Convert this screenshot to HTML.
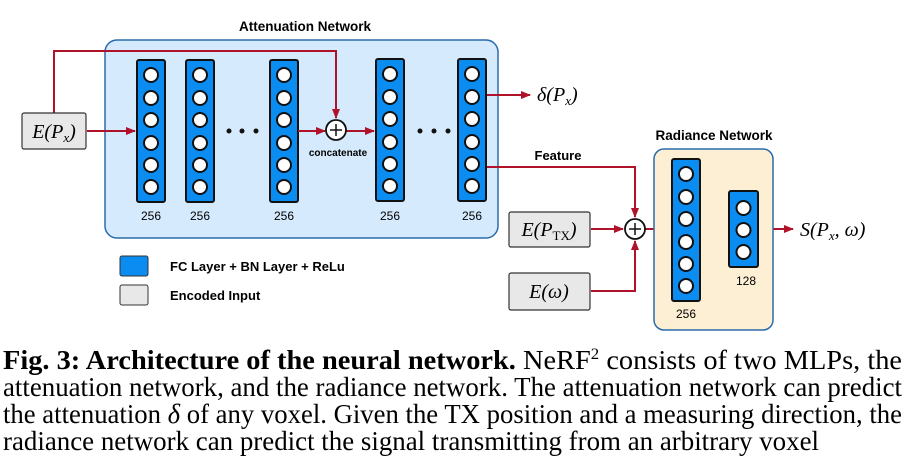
<!DOCTYPE html>
<html><head><meta charset="utf-8"><style>
html,body{margin:0;padding:0;background:#fff;width:906px;height:472px;overflow:hidden}
svg{display:block}
.s{font-family:"Liberation Sans",sans-serif}
.m{font-family:"Liberation Serif",serif;font-style:italic}
</style></head><body>
<svg width="906" height="472" viewBox="0 0 906 472" xmlns="http://www.w3.org/2000/svg">
<defs>
<marker id="a" markerWidth="10" markerHeight="8" refX="9" refY="4" orient="auto" markerUnits="userSpaceOnUse"><path d="M0,0 L10,4 L0,8 Z" fill="#b0122a"/></marker>
<g id="col6"><rect x="0" y="0" width="28" height="142" rx="2" fill="#0a8cf0" stroke="#111" stroke-width="2"/>
<g fill="#fff" stroke="#111" stroke-width="2"><circle cx="14" cy="15" r="7"/><circle cx="14" cy="38" r="7"/><circle cx="14" cy="60" r="7"/><circle cx="14" cy="83" r="7"/><circle cx="14" cy="105" r="7"/><circle cx="14" cy="127" r="7"/></g></g>
</defs>
<text x="305" y="31" class="s" font-size="13.5" font-weight="bold" text-anchor="middle">Attenuation Network</text>
<rect x="105" y="40" width="393" height="198" rx="12" fill="#d5eafd" stroke="#2a6cab" stroke-width="1.5"/>
<use href="#col6" x="137" y="60"/>
<use href="#col6" x="186" y="60"/>
<use href="#col6" x="270" y="60"/>
<use href="#col6" x="376" y="59"/>
<use href="#col6" x="458" y="59"/>
<g class="s" font-size="12" text-anchor="middle"><text x="151" y="220">256</text><text x="200" y="220">256</text><text x="284" y="220">256</text><text x="390" y="220">256</text><text x="472" y="220">256</text></g>
<g fill="#111"><circle cx="229" cy="131" r="2.5"/><circle cx="242" cy="131" r="2.5"/><circle cx="256" cy="131" r="2.5"/><circle cx="420" cy="131" r="2.5"/><circle cx="434" cy="131" r="2.5"/><circle cx="448" cy="131" r="2.5"/></g>
<text x="338" y="156" class="s" font-size="10" font-weight="bold" text-anchor="middle">concatenate</text>
<g stroke="#b0122a" stroke-width="2" fill="none">
<path d="M54,113 V51 H336 V118" marker-end="url(#a)"/>
<path d="M87,131 H135" marker-end="url(#a)"/>
<path d="M298,131 H325" marker-end="url(#a)"/>
<path d="M346,131 H374" marker-end="url(#a)"/>
<path d="M487,95 H530" marker-end="url(#a)"/>
<path d="M487,167 H635 V217" marker-end="url(#a)"/>
<path d="M591,229 H623" marker-end="url(#a)"/>
<path d="M591,291 H635 V241" marker-end="url(#a)"/>
<path d="M645,229 H670" marker-end="url(#a)"/>
<path d="M702,229 H727" marker-end="url(#a)"/>
<path d="M759,229 H793" marker-end="url(#a)"/>
</g>
<g stroke="#111" stroke-width="1.8" fill="#fff"><circle cx="336" cy="130" r="10"/><circle cx="635" cy="229" r="10"/></g>
<g stroke="#111" stroke-width="1.5"><path d="M330,130 H342 M336,124 V136 M629,229 H641 M635,223 V235"/></g>
<rect x="22" y="113" width="64" height="36" rx="2" fill="#e8e8e8" stroke="#333" stroke-width="1.2"/>
<text x="54" y="138" class="m" font-size="20" text-anchor="middle">E(P<tspan font-size="13" dy="4">x</tspan><tspan dy="-4">)</tspan></text>
<text x="537" y="101" class="m" font-size="20">δ(P<tspan font-size="13" dy="4">x</tspan><tspan dy="-4">)</tspan></text>
<text x="558" y="160" class="s" font-size="13" font-weight="bold" text-anchor="middle">Feature</text>
<rect x="509" y="212" width="81" height="35" rx="2" fill="#e8e8e8" stroke="#333" stroke-width="1.2"/>
<text x="549" y="236" class="m" font-size="20" text-anchor="middle">E(P<tspan font-size="13" font-style="normal" dy="4">TX</tspan><tspan dy="-4">)</tspan></text>
<rect x="509" y="273" width="81" height="37" rx="2" fill="#e8e8e8" stroke="#333" stroke-width="1.2"/>
<text x="549" y="298" class="m" font-size="20" text-anchor="middle">E(ω)</text>
<text x="714" y="140" class="s" font-size="13.5" font-weight="bold" text-anchor="middle">Radiance Network</text>
<rect x="654" y="149" width="119" height="181" rx="10" fill="#fdefd3" stroke="#2a6cab" stroke-width="1.5"/>
<use href="#col6" x="672" y="159"/>
<rect x="729" y="191" width="29" height="76" rx="2" fill="#0a8cf0" stroke="#111" stroke-width="2"/>
<g fill="#fff" stroke="#111" stroke-width="2"><circle cx="743.5" cy="208" r="7"/><circle cx="743.5" cy="230" r="7"/><circle cx="743.5" cy="252" r="7"/></g>
<g class="s" font-size="12" text-anchor="middle"><text x="746" y="285">128</text><text x="686" y="318">256</text></g>
<text x="800" y="236" class="m" font-size="20">S(P<tspan font-size="13" dy="4">x</tspan><tspan dy="-4">, ω)</tspan></text>
<rect x="120" y="256" width="28" height="20" rx="2" fill="#0a8cf0" stroke="#333" stroke-width="1"/>
<rect x="120" y="285" width="28" height="20" rx="2" fill="#e8e8e8" stroke="#333" stroke-width="1"/>
<text x="170" y="271" class="s" font-size="13" font-weight="bold">FC Layer + BN Layer + ReLu</text>
<text x="170" y="300" class="s" font-size="13" font-weight="bold">Encoded Input</text>
<g font-family="Liberation Serif,serif" font-size="27">
<text x="3" y="369" textLength="899" lengthAdjust="spacingAndGlyphs"><tspan font-weight="bold">Fig. 3: Architecture of the neural network.</tspan> NeRF<tspan font-size="16" dy="-10">2</tspan><tspan dy="10"> consists of two MLPs, the</tspan></text>
<text x="3" y="396" textLength="899" lengthAdjust="spacingAndGlyphs">attenuation network, and the radiance network. The attenuation network can predict</text>
<text x="3" y="423" textLength="899" lengthAdjust="spacingAndGlyphs">the attenuation <tspan font-style="italic">δ</tspan> of any voxel. Given the TX position and a measuring direction, the</text>
<text x="3" y="450" textLength="816" lengthAdjust="spacingAndGlyphs">radiance network can predict the signal transmitting from an arbitrary voxel</text>
</g>
</svg>
</body></html>
